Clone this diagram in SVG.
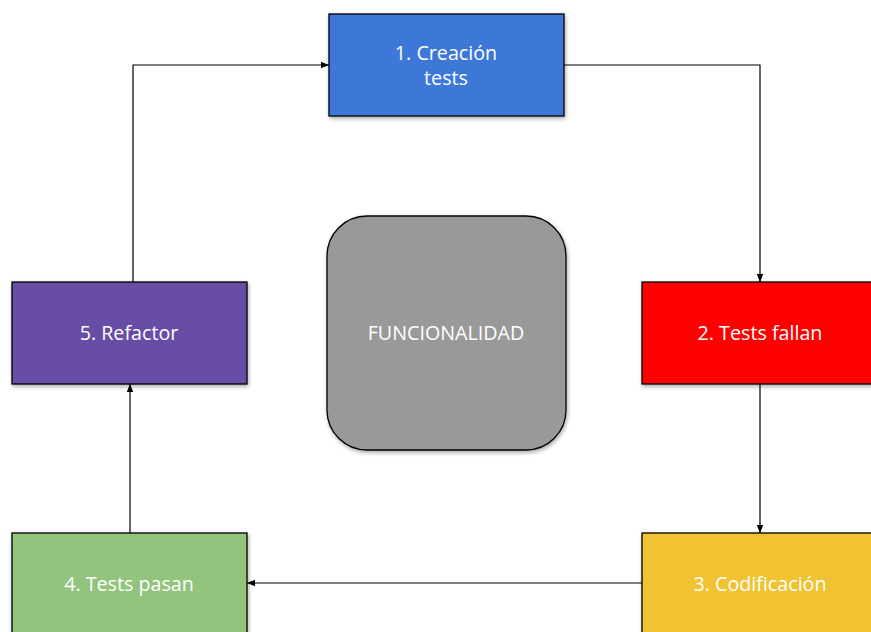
<svg xmlns="http://www.w3.org/2000/svg" width="871" height="632" viewBox="0 0 871 632">
<defs>
<filter id="sh" x="-10%" y="-10%" width="130%" height="130%">
<feGaussianBlur in="SourceAlpha" stdDeviation="2"/>
<feOffset dx="1" dy="2" result="b"/>
<feComponentTransfer><feFuncA type="linear" slope="0.35"/></feComponentTransfer>
<feMerge><feMergeNode/><feMergeNode in="SourceGraphic"/></feMerge>
</filter>
<marker id="ar" viewBox="0 0 10 10" refX="10" refY="5" markerWidth="8" markerHeight="8" markerUnits="userSpaceOnUse" orient="auto">
<path d="M0,1 L10,5 L0,9 z" fill="#000"/>
</marker>
<style>
.box{stroke:#000;stroke-width:1.3;filter:url(#sh)}
.lbl{font-family:"Open Sans","Noto Sans",sans-serif;font-size:19.7px;fill:#fff;text-anchor:middle}
.cn{fill:none;stroke:#000;stroke-width:1.2;marker-end:url(#ar)}
</style>
</defs>
<rect width="871" height="632" fill="#fff"/>
<g id="connectors">
<path class="cn" d="M564,65 H760 V282"/>
<path class="cn" d="M760,384 V533"/>
<path class="cn" d="M642,583 H247"/>
<path class="cn" d="M130,533 V384"/>
<path class="cn" d="M133,282 V65 H329"/>
</g>
<g id="n1"><rect class="box" x="329" y="14" width="235" height="102" fill="#3c78d8"/><text class="lbl" x="446" y="60">1. Creación</text><text class="lbl" x="446" y="85">tests</text></g>
<g id="n2"><rect class="box" x="642" y="282" width="236" height="102" fill="#ff0000"/><text class="lbl" x="760" y="340">2. Tests fallan</text></g>
<g id="n3"><rect class="box" x="642" y="533" width="236" height="102" fill="#f1c232"/><text class="lbl" x="760" y="591">3. Codificación</text></g>
<g id="n4"><rect class="box" x="12" y="533" width="235" height="102" fill="#93c47d"/><text class="lbl" x="129" y="591">4. Tests pasan</text></g>
<g id="n5"><rect class="box" x="12" y="282" width="235" height="102" fill="#674ea7"/><text class="lbl" x="129" y="340">5. Refactor</text></g>
<g id="center"><rect class="box" x="327" y="216" width="239" height="234" rx="40" ry="40" fill="#999999"/><text class="lbl" x="446" y="340">FUNCIONALIDAD</text></g>
</svg>
